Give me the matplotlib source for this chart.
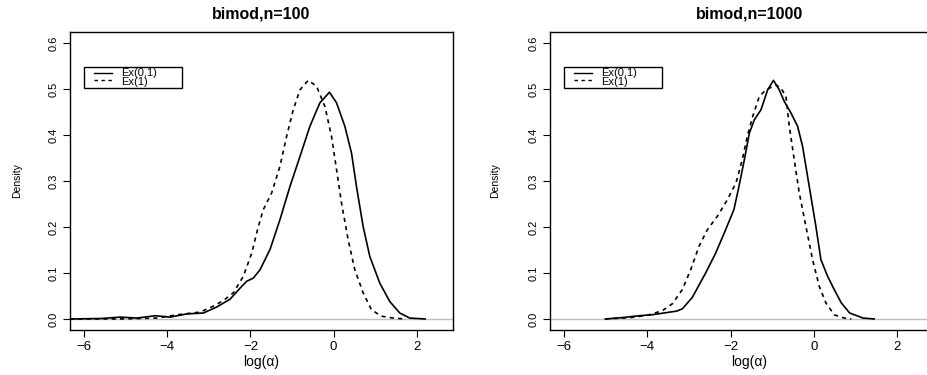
import numpy as np
import matplotlib
matplotlib.use("Agg")
import matplotlib.pyplot as plt
from matplotlib.patches import Rectangle

plt.rcParams['font.family'] = ['Liberation Sans', 'DejaVu Sans']

# left panel: bimod, n=100
x100_ex01 = [-6.34, -5.6, -5.13, -4.73, -4.29, -3.93, -3.53, -3.13, -2.81, -2.49, -2.25,
             -2.09, -1.93, -1.77, -1.53, -1.29, -1.05, -0.81, -0.57, -0.33, -0.10, 0.07,
             0.27, 0.43, 0.55, 0.71, 0.87, 1.11, 1.35, 1.59, 1.83, 2.2]
y100_ex01 = [0.0, 0.001, 0.004, 0.002, 0.007, 0.004, 0.011, 0.013, 0.026, 0.043, 0.067,
             0.082, 0.089, 0.107, 0.151, 0.216, 0.288, 0.353, 0.419, 0.47, 0.493, 0.47,
             0.419, 0.361, 0.288, 0.201, 0.136, 0.078, 0.038, 0.013, 0.002, 0.0]
x100_ex1 = [-6.34, -5.5, -5.13, -4.25, -3.77, -3.21, -2.89, -2.65, -2.41, -2.17, -1.97,
            -1.81, -1.69, -1.49, -1.29, -1.13, -0.97, -0.81, -0.61, -0.41, -0.21, -0.05,
            0.07, 0.19, 0.35, 0.51, 0.71, 0.91, 1.15, 1.43, 1.7]
y100_ex1 = [0.0, 0.0, 0.0, 0.002, 0.009, 0.015, 0.028, 0.04, 0.057, 0.093, 0.143,
            0.201, 0.238, 0.274, 0.332, 0.397, 0.455, 0.498, 0.519, 0.506, 0.462, 0.397,
            0.325, 0.252, 0.172, 0.107, 0.057, 0.02, 0.006, 0.002, 0.0]

# right panel: bimod, n=1000
x1000_ex01 = [-5.01, -4.6, -4.2, -3.9, -3.6, -3.3, -3.16, -2.92, -2.6, -2.36, -2.12, -1.92,
              -1.80, -1.67, -1.55, -1.43, -1.27, -1.11, -0.97, -0.83, -0.71, -0.55, -0.39,
              -0.27, -0.11, 0.05, 0.17, 0.33, 0.49, 0.66, 0.86, 1.18, 1.45]
y1000_ex01 = [0.0, 0.003, 0.007, 0.009, 0.013, 0.017, 0.022, 0.047, 0.1, 0.143, 0.194, 0.238,
              0.288, 0.346, 0.404, 0.433, 0.455, 0.498, 0.519, 0.498, 0.473, 0.448, 0.419,
              0.375, 0.288, 0.201, 0.129, 0.093, 0.064, 0.035, 0.013, 0.002, 0.0]
x1000_ex1 = [-5.01, -4.4, -4.0, -3.64, -3.40, -3.16, -2.96, -2.76, -2.56, -2.32, -2.08,
             -1.87, -1.72, -1.60, -1.47, -1.31, -1.15, -0.91, -0.79, -0.67, -0.59, -0.47,
             -0.35, -0.19, -0.03, 0.13, 0.29, 0.49, 0.73, 0.9]
y1000_ex1 = [0.0, 0.003, 0.008, 0.018, 0.033, 0.064, 0.107, 0.158, 0.194, 0.223, 0.259,
             0.296, 0.346, 0.397, 0.44, 0.484, 0.498, 0.509, 0.502, 0.484, 0.419, 0.346,
             0.274, 0.201, 0.129, 0.071, 0.035, 0.009, 0.002, 0.0]

titles = ["bimod,n=100", "bimod,n=1000"]
labels = ["Ex(0,1)", "Ex(1)"]
xticks = [-6, -4, -2, 0, 2]
yticks = [0.0, 0.1, 0.2, 0.3, 0.4, 0.5, 0.6]

fig = plt.figure(figsize=(9.28, 3.75), dpi=100)
ax1 = fig.add_axes([0.0754, 0.12, 0.4127, 0.7947])
ax2 = fig.add_axes([0.5927, 0.12, 0.43, 0.7947])

data = [(x100_ex01, y100_ex01, x100_ex1, y100_ex1),
        (x1000_ex01, y1000_ex01, x1000_ex1, y1000_ex1)]
xmax = [2.87, 3.25]

for ax, title, (xa, ya, xb, yb), xm in zip([ax1, ax2], titles, data, xmax):
    ax.axhline(0, color="#bebebe", lw=1, zorder=1)
    ax.plot(xa, ya, color="black", lw=1.2, zorder=3)
    ax.plot(xb, yb, color="black", lw=1.2, dashes=(2.5, 2.5), zorder=3)
    ax.set_xlim(-6.34, xm)
    ax.set_ylim(-0.024, 0.624)
    ax.set_xticks(xticks)
    ax.set_xticklabels(["\u22126", "\u22124", "\u22122", "0", "2"], fontsize=9.5)
    ax.set_yticks(yticks)
    ax.set_yticklabels(["%.1f" % v for v in yticks], fontsize=8, rotation=90,
                       va="center")
    ax.tick_params(direction="out", length=5, width=0.8, pad=3)
    for s in ax.spines.values():
        s.set_linewidth(1.0)
    ax.set_title(title, fontsize=11.5, fontweight="bold", pad=10)
    ax.set_xlabel("log(\u03b1)", fontsize=10)
    ax.xaxis.set_label_coords(0.5, -0.085)
    ax.set_ylabel("Density", fontsize=7.5)
    ax.yaxis.set_label_coords(-0.125, 0.5)

    # legend box drawn as in R
    ax.add_patch(Rectangle((-6.0, 0.5015), 2.36, 0.046, fill=False, lw=1.0,
                           edgecolor="black", zorder=4))
    ax.plot([-5.76, -5.33], [0.535, 0.535], color="black", lw=1.0)
    ax.plot([-5.76, -5.33], [0.519, 0.519], color="black", lw=1.0, dashes=(2.5, 2.5))
    ax.text(-5.12, 0.534, labels[0], fontsize=8, va="center")
    ax.text(-5.12, 0.515, labels[1], fontsize=8, va="center")

fig.savefig("out.png", dpi=100)
